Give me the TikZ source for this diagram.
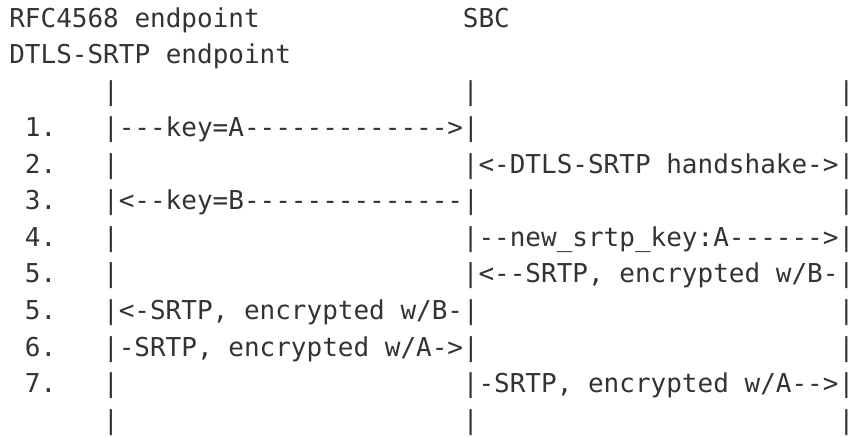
\documentclass[tikz,border=0pt]{standalone}
\usepackage{fontspec}
\setmonofont{DejaVu Sans Mono}
\definecolor{ink}{HTML}{333333}
\begin{document}
\begin{tikzpicture}[x=1pt,y=1pt,
  txt/.style={anchor=base west, inner sep=0pt, outer sep=0pt, text=ink,
    font=\ttfamily\fontsize{26}{30}\selectfont}]
\useasboundingbox (0,0) rectangle (848,-438);
\def\cw{15.64}
\newcommand\putseg[4]{\node[txt] (#1) at ({9.3+#2*\cw},{-(27.5+36.5*#3)}) {#4};}
\newcommand\edgebar{\makebox[0pt][l]{|}}
% headers
\putseg{h1}{0}{0}{RFC4568 endpoint}
\putseg{h2}{29}{0}{SBC}
\putseg{h3}{0}{1}{DTLS-SRTP endpoint}
% top bars
\putseg{ta}{6}{2}{|}
\putseg{tb}{29}{2}{|}
\putseg{tc}{53}{2}{\edgebar}
% step 1
\putseg{n1}{1}{3}{1.}
\putseg{m1}{6}{3}{|---key=A------------->|}
\putseg{r1}{53}{3}{\edgebar}
% step 2
\putseg{n2}{1}{4}{2.}
\putseg{l2}{6}{4}{|}
\putseg{m2}{29}{4}{|<-DTLS-SRTP handshake->\edgebar}
% step 3
\putseg{n3}{1}{5}{3.}
\putseg{m3}{6}{5}{|<--key=B--------------|}
\putseg{r3}{53}{5}{\edgebar}
% step 4
\putseg{n4}{1}{6}{4.}
\putseg{l4}{6}{6}{|}
\putseg{m4}{29}{6}{|--new\_srtp\_key:A------>\edgebar}
% step 5a
\putseg{n5}{1}{7}{5.}
\putseg{l5}{6}{7}{|}
\putseg{m5}{29}{7}{|<--SRTP, encrypted w/B-\edgebar}
% step 5b
\putseg{n5b}{1}{8}{5.}
\putseg{m5b}{6}{8}{|<-SRTP, encrypted w/B-|}
\putseg{r5b}{53}{8}{\edgebar}
% step 6
\putseg{n6}{1}{9}{6.}
\putseg{m6}{6}{9}{|-SRTP, encrypted w/A->|}
\putseg{r6}{53}{9}{\edgebar}
% step 7
\putseg{n7}{1}{10}{7.}
\putseg{l7}{6}{10}{|}
\putseg{m7}{29}{10}{|-SRTP, encrypted w/A-->\edgebar}
% bottom bars
\putseg{ba}{6}{11}{|}
\putseg{bb}{29}{11}{|}
\putseg{bc}{53}{11}{\edgebar}
\end{tikzpicture}
\end{document}
